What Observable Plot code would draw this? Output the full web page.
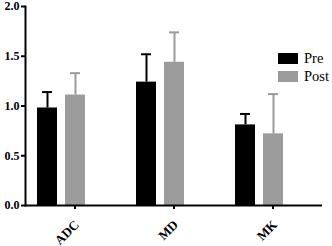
<!DOCTYPE html>
<html>
<head>
<meta charset="utf-8">
<script src="https://cdn.jsdelivr.net/npm/d3@7"></script>
<script src="https://cdn.jsdelivr.net/npm/@observablehq/plot@0.6"></script>
<style>
  html, body { margin: 0; padding: 0; background: #fff; }
  #wrap { position: relative; width: 332px; height: 246px; }
  #wrap svg text { font-family: "Liberation Serif", serif !important; font-weight: bold; fill: #000; }
  #legend { position: absolute; left: 278px; top: 53px; font-family: "Liberation Serif", serif; font-size: 14.5px; color: #000; }
  .item { display: flex; align-items: center; height: 11px; margin-bottom: 7px; }
  .sw { width: 20px; height: 11px; margin-right: 6px; }
</style>
</head>
<body>
<div id="wrap"><div id="legend"></div></div>
<script>
const categories = ["ADC", "MD", "MK"];
const series = ["Pre", "Post"];
const preMean = [0.98, 1.24, 0.81];
const preErr = [0.16, 0.28, 0.11];
const postMean = [1.11, 1.44, 0.72];
const postErr = [0.22, 0.30, 0.40];
const yTicks = [0, 0.5, 1.0, 1.5, 2.0];
const colors = ["#000000", "#9b9b9b"];

const rows = [];
categories.forEach((c, i) => {
  rows.push({cat: c, group: "Pre", mean: preMean[i], top: preMean[i] + preErr[i]});
  rows.push({cat: c, group: "Post", mean: postMean[i], top: postMean[i] + postErr[i]});
});

const chart = Plot.plot({
  width: 332,
  height: 246,
  marginLeft: 24,
  marginRight: 10,
  marginTop: 6,
  marginBottom: 41,
  style: {fontFamily: "Liberation Serif", fontSize: "12px", fontWeight: "bold", color: "#000", background: "#fff", overflow: "visible"},
  fx: {domain: categories, padding: 0, label: null},
  x: {domain: ["Pre", "Post", "_"], paddingInner: 0.3, paddingOuter: 0.36, axis: null},
  y: {domain: [0, 2], label: null},
  color: {domain: series, range: colors},
  marks: [
    Plot.barY(rows, {fx: "cat", x: "group", y: "mean", fill: "group"}),
    Plot.ruleX(rows, {fx: "cat", x: "group", y1: "mean", y2: "top", stroke: "group", strokeWidth: 2}),
    Plot.tickY(rows, {fx: "cat", x: "group", y: "top", stroke: "group", strokeWidth: 2, insetLeft: 5, insetRight: 5}),
    Plot.ruleY([0], {strokeWidth: 2}),
    Plot.frame({anchor: "left", facetAnchor: "left", strokeWidth: 2}),
    Plot.axisY({ticks: yTicks, tickFormat: d3.format(".1f"), tickSize: 4, tickPadding: 2, strokeWidth: 2, label: null, fontSize: 12}),
    Plot.axisFx({anchor: "bottom", tickSize: 4, strokeWidth: 2, label: null, tickFormat: () => ""}),
    Plot.text(categories, {fx: d => d, text: d => d, frameAnchor: "bottom", rotate: -45, textAnchor: "end", dx: 5, dy: 20, fontSize: 13, fontWeight: "bold"})
  ]
});
document.getElementById("wrap").prepend(chart);

const legend = document.getElementById("legend");
series.forEach((s, i) => {
  const item = document.createElement("div");
  item.className = "item";
  const sw = document.createElement("div");
  sw.className = "sw";
  sw.style.background = colors[i];
  const t = document.createElement("span");
  t.textContent = s;
  item.appendChild(sw);
  item.appendChild(t);
  legend.appendChild(item);
});
</script>
</body>
</html>
